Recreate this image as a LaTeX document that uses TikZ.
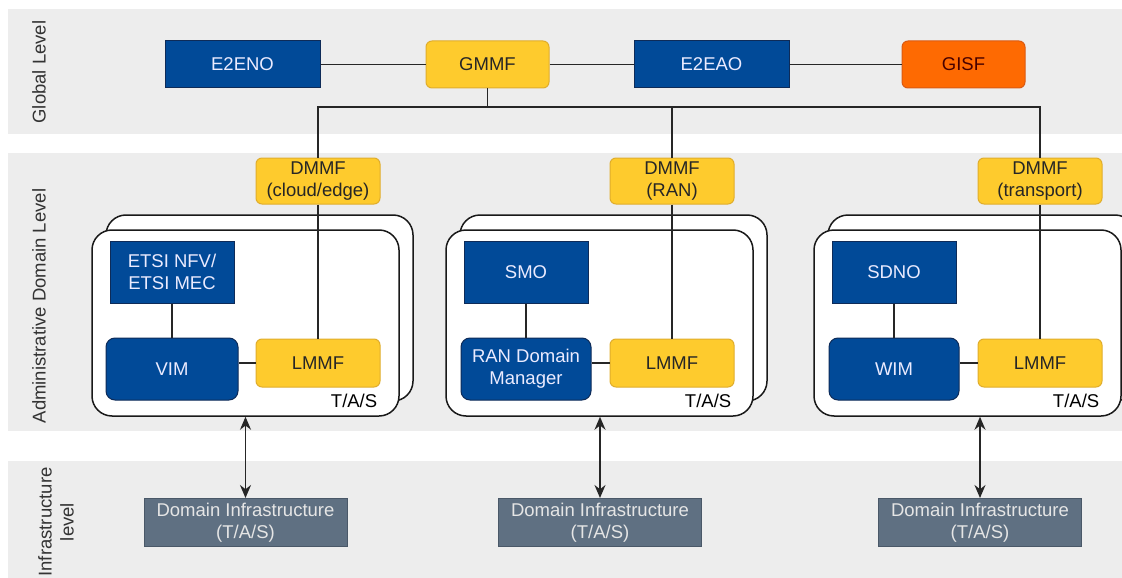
\documentclass[tikz,border=0pt]{standalone}
\usepackage{fontspec}
\setmainfont{Liberation Sans}
\usepackage{xcolor}
\usetikzlibrary{arrows.meta}

\definecolor{bandgray}{HTML}{EDEDED}
\definecolor{mgtblue}{HTML}{014A98}
\definecolor{mgtblueline}{HTML}{0E2B58}
\definecolor{mmfyellow}{HTML}{FECB2D}
\definecolor{mmfline}{HTML}{E0AD2C}
\definecolor{isforange}{HTML}{FE6A02}
\definecolor{isfline}{HTML}{DA5A12}
\definecolor{infragray}{HTML}{5F7082}
\definecolor{infraline}{HTML}{4A5868}

\begin{document}
\begin{tikzpicture}[x=1pt, y=-1pt, font=\fontsize{18.5}{22}\selectfont,
	bluebox/.style = {draw=mgtblueline, fill=mgtblue, text=white!92!blue, line width=1pt, align=center, inner sep=0},
	mmf/.style = {draw=mmfline, fill=mmfyellow, text=black!85, rounded corners=6pt, line width=1pt, align=center, inner sep=0},
	panel/.style = {draw=black!90, fill=white, rounded corners=20pt, line width=1.5pt, minimum width=307pt, minimum height=186pt, inner sep=0},
	infra/.style = {draw=infraline, fill=infragray, text=white!90!black, line width=1pt, align=center, inner sep=0, minimum width=203pt, minimum height=48pt},
	link/.style = {draw=black!85, line width=1.5pt},
	twoway/.style = {link, {Stealth[length=13pt,width=11pt]}-{Stealth[length=13pt,width=11pt]}},
	levellabel/.style = {rotate=90, text=black!80, align=center}]
	\useasboundingbox (0,0) rectangle (1122,578);

	% level bands
	\fill[bandgray] (8,9) rectangle (1122,134);
	\fill[bandgray] (8,153) rectangle (1122,431);
	\fill[bandgray] (8,461) rectangle (1122,578);
	\node[levellabel] (glob) at (39,72) {Global Level};
	\node[levellabel] (admin) at (39,306) {Administrative Domain Level};
	\node[levellabel] (infr) at (56,522) {Infrastructure\\level};

	% global level
	\node[bluebox, minimum width=155pt, minimum height=47pt] (e2eno) at (242.5,64.5) {E2ENO};
	\node[mmf, minimum width=123pt, minimum height=47pt] (gmmf) at (487.5,64.5) {GMMF};
	\node[bluebox, minimum width=155pt, minimum height=47pt] (e2eao) at (711.5,64.5) {E2EAO};
	\node[mmf, draw=isfline, fill=isforange, text=black!60!red!70!black, minimum width=123pt, minimum height=47pt] (gisf) at (963.5,64.5) {GISF};
	\draw[link] (e2eno) -- (gmmf);
	\draw[link] (gmmf) -- (e2eao);
	\draw[link] (e2eao) -- (gisf);

	% domain managers
	\node[mmf, minimum width=124pt, minimum height=46pt] (dmmf1) at (318,181) {DMMF\\(cloud/edge)};
	\node[mmf, minimum width=124pt, minimum height=46pt] (dmmf2) at (672,181) {DMMF\\(RAN)};
	\node[mmf, minimum width=124pt, minimum height=46pt] (dmmf3) at (1040,181) {DMMF\\(transport)};
	\coordinate (bus) at (487.5,107);
	\draw[link] (gmmf.south) -- (gmmf.south |- bus);
	\draw[link] (dmmf1.north) -- (dmmf1.north |- bus) -- (dmmf3.north |- bus) -- (dmmf3.north);
	\draw[link] (dmmf2.north) -- (dmmf2.north |- bus);

	% stacked domain panels
	\node[panel] (back1) at (259.5,308) {};
	\node[panel] (front1) at (245.5,323) {};
	\node[panel] (back2) at (613.5,308) {};
	\node[panel] (front2) at (599.5,323) {};
	\node[panel] (back3) at (981.5,308) {};
	\node[panel] (front3) at (967.5,323) {};
	\node[anchor=base east] (tas1) at ([xshift=-19pt,yshift=9pt]front1.south east) {T/A/S};
	\node[anchor=base east] (tas2) at ([xshift=-19pt,yshift=9pt]front2.south east) {T/A/S};
	\node[anchor=base east] (tas3) at ([xshift=-19pt,yshift=9pt]front3.south east) {T/A/S};

	% cloud/edge domain
	\node[bluebox, minimum width=124pt, minimum height=62pt] (etsi) at (172,272) {ETSI NFV/\\ETSI MEC};
	\node[bluebox, rounded corners=9pt, minimum width=132pt, minimum height=62pt] (vim) at (172,369) {VIM};
	\node[mmf, minimum width=124pt, minimum height=48pt] (lmmf1) at (318,363) {LMMF};
	\draw[link] (etsi) -- (vim);
	\draw[link] (lmmf1.west) -- (lmmf1.west -| vim.east);
	\draw[link] (dmmf1) -- (lmmf1);

	% RAN domain
	\node[bluebox, minimum width=124pt, minimum height=62pt] (smo) at (526,272) {SMO};
	\node[bluebox, rounded corners=9pt, minimum width=130pt, minimum height=62pt] (randm) at (526,369) {RAN Domain\\Manager};
	\node[mmf, minimum width=124pt, minimum height=48pt] (lmmf2) at (672,363) {LMMF};
	\draw[link] (smo) -- (randm);
	\draw[link] (lmmf2.west) -- (lmmf2.west -| randm.east);
	\draw[link] (dmmf2) -- (lmmf2);

	% transport domain
	\node[bluebox, minimum width=124pt, minimum height=62pt] (sdno) at (894,272) {SDNO};
	\node[bluebox, rounded corners=9pt, minimum width=130pt, minimum height=62pt] (wim) at (894,369) {WIM};
	\node[mmf, minimum width=124pt, minimum height=48pt] (lmmf3) at (1040,363) {LMMF};
	\draw[link] (sdno) -- (wim);
	\draw[link] (lmmf3.west) -- (lmmf3.west -| wim.east);
	\draw[link] (dmmf3) -- (lmmf3);

	% infrastructure level
	\node[infra] (infra1) at (245.5,522.5) {Domain Infrastructure\\(T/A/S)};
	\node[infra] (infra2) at (600,522.5) {Domain Infrastructure\\(T/A/S)};
	\node[infra] (infra3) at (980,522.5) {Domain Infrastructure\\(T/A/S)};
	\draw[twoway] (infra1.north) -- (infra1.north |- front1.south);
	\draw[twoway] (infra2.north) -- (infra2.north |- front2.south);
	\draw[twoway] (infra3.north) -- (infra3.north |- front3.south);
\end{tikzpicture}
\end{document}
